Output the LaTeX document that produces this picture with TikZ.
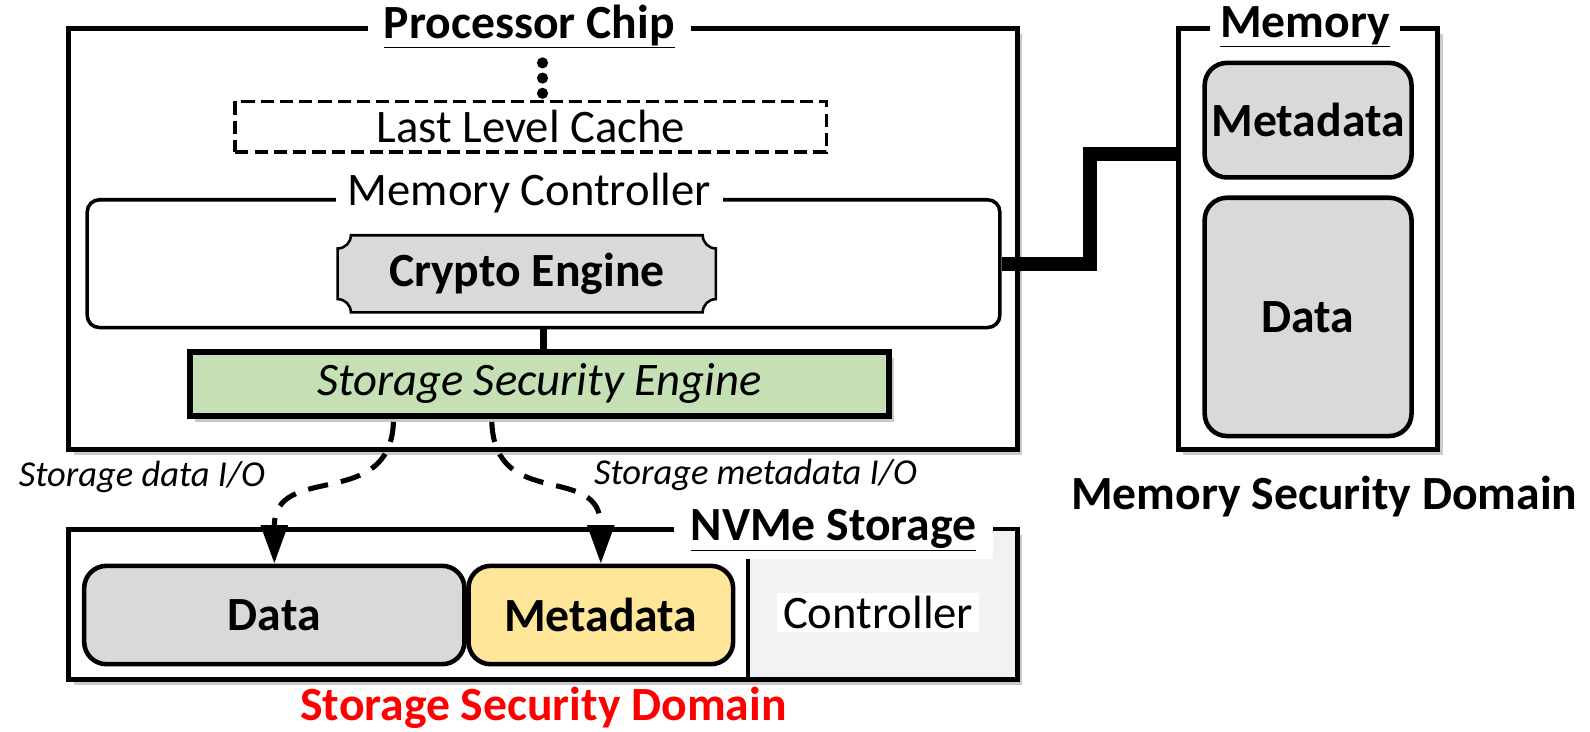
\documentclass[tikz,border=0pt]{standalone}
\usepackage{fontspec}
\setmainfont{Carlito}
\usetikzlibrary{arrows.meta,calc,shadows}

\definecolor{cellgray}{RGB}{217,217,217}
\definecolor{ctrlgray}{RGB}{242,242,242}
\definecolor{ssegreen}{RGB}{197,224,180}
\definecolor{metayellow}{RGB}{255,230,153}

\tikzset{every picture/.style={line width=0.75pt}}

\begin{document}
\begin{tikzpicture}[
            x=1pt,
            y=1pt,
            yscale=-1,
            xscale=1,
            every node/.style={text=black, inner sep=0pt},
            big/.style={font=\fontsize{46}{54}\selectfont},
            small/.style={font=\fontsize{36}{42}\selectfont\itshape},
            title/.style={big, font=\fontsize{47}{54}\selectfont\bfseries, fill=white, inner xsep=16pt, inner ysep=4pt},
            chip/.style={draw, fill=white, line width=5pt, minimum width=#1, drop shadow={shadow xshift=5pt, shadow yshift=-6pt, opacity=0.35, fill=black!60}},
            cell/.style={draw, line width=4.5pt, rounded corners=22pt, fill=cellgray, big, font=\fontsize{47}{54}\selectfont\bfseries},
            bus/.style={line width=14pt},
            iopath/.style={line width=5pt, dash pattern=on 20pt off 13pt, -{Triangle[length=38pt, width=26pt]}}
        ]
            \useasboundingbox (0,0) rectangle (1568,721);

            % processor chip
            \node[chip=935pt, minimum height=415pt] (proc) at (535.5,235.5) {};
            \node[title] (proctitle) at (522,26) {\underline{Processor Chip}};
            \foreach \y in {62,77,92}
                \fill (535,\y) circle (5.5);
            \node[draw, line width=3.5pt, dash pattern=on 13pt off 6pt, minimum width=583pt, minimum height=50pt, big] (llc) at (523.5,125) {Last Level Cache};

            \node[draw, line width=3.5pt, rounded corners=12pt, minimum width=900pt, minimum height=126pt] (mc) at (536,260) {};
            \node[big, fill=white, inner xsep=12pt, inner ysep=2pt] (mclabel) at (522,190) {Memory Controller};
            \fill[cellgray] (346,232) -- (693,232) .. controls (693,239.2) and (698.8,245) .. (706,245) -- (706,295) .. controls (698.8,295) and (693,300.8) .. (693,308) -- (346,308) .. controls (346,300.8) and (340.2,295) .. (333,295) -- (333,245) .. controls (340.2,245) and (346,239.2) .. (346,232) -- cycle;
            \draw[line width=2.5pt] (346,232) -- (693,232) .. controls (693,239.2) and (698.8,245) .. (706,245) -- (706,295) .. controls (698.8,295) and (693,300.8) .. (693,308) -- (346,308) .. controls (346,300.8) and (340.2,295) .. (333,295) -- (333,245) .. controls (340.2,245) and (346,239.2) .. (346,232) -- cycle;
            \node[big, font=\fontsize{47}{54}\selectfont\bfseries] (crypto) at (519.5,270) {Crypto Engine};

            \node[chip=690pt, line width=6pt, minimum height=63pt, fill=ssegreen, small, font=\fontsize{46}{54}\selectfont\itshape] (sse) at (532,378.5) {Storage Security Engine};
            \draw[line width=7pt] (mc.south) -- (mc.south |- sse.north);

            % memory
            \node[chip=256pt, minimum height=415pt] (mem) at (1290,235.5) {};
            \node[title, inner xsep=10pt] (memtitle) at (1287,26) {\underline{Memory}};
            \node[cell, minimum width=204pt, minimum height=113pt] (memmeta) at (1290,118.5) {Metadata};
            \node[cell, minimum width=204pt, minimum height=235pt] (memdata) at (1290,312.5) {Data};
            \coordinate (memport) at (1162,152);
            \draw[bus] (mc.east) -| ($(mc.east)!0.5!(memport)$) |- (memport);
            \node[big, font=\fontsize{47}{54}\selectfont\bfseries] (memdomain) at (1306,490) {Memory Security Domain};

            % nvme storage
            \node[chip=935pt, minimum height=148pt] (nvme) at (535.5,596) {};
            \node[fill=ctrlgray, minimum width=263pt, minimum height=144pt] (ctrl) at (869.5,596) {};
            \draw[line width=3.5pt] (ctrl.north west) -- (ctrl.south west);
            \node[title, inner xsep=16pt, inner ysep=8pt] (nvmetitle) at (822,523) {\underline{NVMe Storage}};
            \node[big, fill=white, inner xsep=6pt, inner ysep=3pt] (ctrllabel) at (866,604) {Controller};
            \node[cell, minimum width=375pt, minimum height=97pt] (nvdata) at (270.5,606.5) {Data};
            \node[cell, fill=metayellow, minimum width=261pt, minimum height=97pt] (nvmeta) at (592.5,606.5) {Metadata};

            \draw[bus] ($(sse.south)+(-97,0)$) -- ($(sse.south)+(-97,0)$ |- nvme.north);
            \draw[iopath] ($(sse.south)+(-144,3)$) .. controls (385,505) and (270.5,455) .. (nvdata.north);
            \draw[iopath] ($(sse.south)+(-47,3)$) .. controls (488,505) and (592.5,455) .. (nvmeta.north);
            \node[small] (datalabel) at (140,470) {Storage data I/O};
            \node[small] (metalabel) at (745,468) {Storage metadata I/O};

            \node[big, font=\fontsize{47}{54}\selectfont\bfseries, text=red] (stdomain) at (536,698) {Storage Security Domain};
        \end{tikzpicture}
\end{document}
